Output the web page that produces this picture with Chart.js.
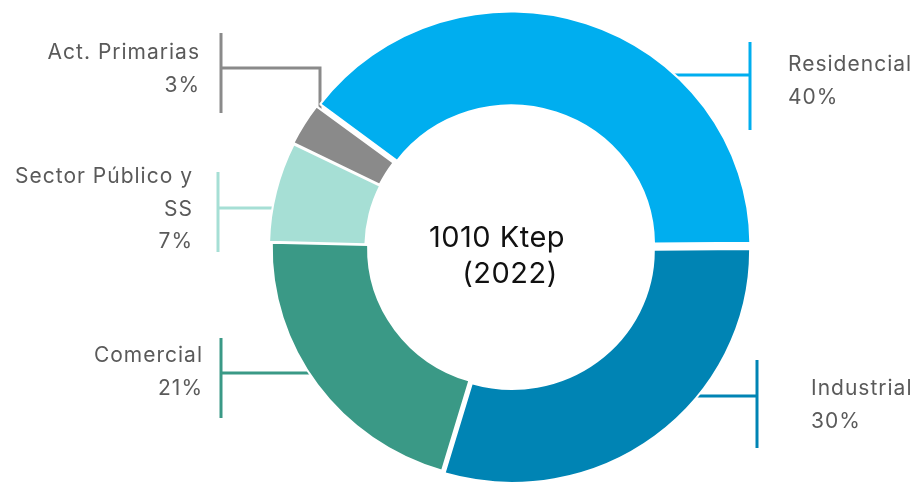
<!DOCTYPE html>
<html>
<head>
<meta charset="utf-8">
<script src="https://cdn.jsdelivr.net/npm/chart.js@4.4.1/dist/chart.umd.min.js"></script>
<style>
  html, body { margin: 0; padding: 0; background: #fff; }
  #wrap { width: 920px; height: 486px; position: relative; }
</style>
</head>
<body>
<div id="wrap"><canvas id="myChart" width="920" height="486"></canvas></div>
<script>
// consumo por sector
const sectores = ["Residencial", "Industrial", "Comercial", "Sector Público y SS", "Act. Primarias"];
const porcentajes = [40, 30, 21, 7, 3];
const colores = ["#00aeef", "#0084b4", "#3a9986", "#a6dfd5", "#8a8a8a"];
const titulo = ["1010 Ktep", "(2022)"];

// where each label + bracket sits (text lines, side, bracket x, line y)
const etiquetas = [
  { lines: ["Residencial", "40%"], side: "right", textX: 788, textY: 65, bx: 750, by0: 42, by1: 130, ly: 75 },
  { lines: ["Industrial", "30%"], side: "right", textX: 811, textY: 389, bx: 757, by0: 360, by1: 448, ly: 396 },
  { lines: ["Comercial", "21%"], side: "left", textX: 203, textY: 356, bx: 221, by0: 338, by1: 418, ly: 373 },
  { lines: ["Sector Público y", "SS", "7%"], side: "left", textX: 193, textY: 177, bx: 218, by0: 172, by1: 252, ly: 208 },
  { lines: ["Act. Primarias", "3%"], side: "left", textX: 200, textY: 53, bx: 221, by0: 33, by1: 113, ly: 68, elbowX: 320 }
];

// ring is drawn very slightly wider than tall
const sx = 1.012, sy = 0.987;

const calloutPlugin = {
  id: "callouts",
  beforeDatasetsDraw(chart) {
    const ctx = chart.ctx;
    const arc = chart.getDatasetMeta(0).data[0];
    const cx = arc.x, cy = arc.y, rx = arc.outerRadius * sx, ry = arc.outerRadius * sy;
    ctx.save();
    ctx.lineWidth = 3;
    etiquetas.forEach((e, i) => {
      ctx.strokeStyle = colores[i];
      ctx.beginPath();
      ctx.moveTo(e.bx, e.by0);
      ctx.lineTo(e.bx, e.by1);
      ctx.stroke();
      ctx.beginPath();
      if (e.elbowX) {
        // goes across, then down into the slice
        const dx = (e.elbowX - cx) / rx;
        const yEdge = cy - ry * Math.sqrt(1 - dx * dx);
        ctx.moveTo(e.bx, e.ly);
        ctx.lineTo(e.elbowX, e.ly);
        ctx.lineTo(e.elbowX, yEdge + 12);
      } else {
        const dy = (e.ly - cy) / ry;
        const half = rx * Math.sqrt(1 - dy * dy);
        const xEdge = e.side === "right" ? cx + half - 12 : cx - half + 12;
        ctx.moveTo(e.bx, e.ly);
        ctx.lineTo(xEdge, e.ly);
      }
      ctx.stroke();
    });
    ctx.restore();

    ctx.save();
    ctx.translate(cx, cy);
    ctx.scale(sx, sy);
    ctx.translate(-cx, -cy);
  },
  afterDatasetsDraw(chart) {
    chart.ctx.restore();
  },
  afterDraw(chart) {
    const ctx = chart.ctx;
    const arc = chart.getDatasetMeta(0).data[0];
    ctx.save();
    ctx.textBaseline = "middle";
    ctx.fillStyle = "#5a5a5a";
    ctx.font = "21px Inter, 'Noto Sans', sans-serif";
    ctx.letterSpacing = "1px";
    etiquetas.forEach((e) => {
      ctx.textAlign = e.side === "right" ? "left" : "right";
      e.lines.forEach((t, k) => {
        ctx.fillText(t, e.textX, e.textY + k * 32.5);
      });
    });
    // centre title
    ctx.fillStyle = "#111";
    ctx.font = "29px Inter, 'Noto Sans', sans-serif";
    ctx.letterSpacing = "0.5px";
    ctx.textAlign = "center";
    ctx.fillText(titulo[0], arc.x - 13, 238);
    ctx.fillText(titulo[1], arc.x, 274);
    ctx.restore();
  }
};

const ctx = document.getElementById("myChart");

new Chart(ctx, {
  type: "doughnut",
  data: {
    labels: sectores,
    datasets: [
      {
        data: porcentajes,
        backgroundColor: colores,
        borderColor: "#ffffff",
        borderWidth: 2,
        offset: [14, 14, 2, 8, 9],
        hoverOffset: 0
      }
    ]
  },
  options: {
    responsive: false,
    animation: false,
    rotation: -53,
    radius: 235,
    cutout: "59.5%",
    layout: { padding: { left: 100, right: 0, top: 10, bottom: 0 } },
    plugins: {
      legend: { display: false },
      tooltip: { enabled: false }
    }
  },
  plugins: [calloutPlugin]
});
</script>
</body>
</html>
